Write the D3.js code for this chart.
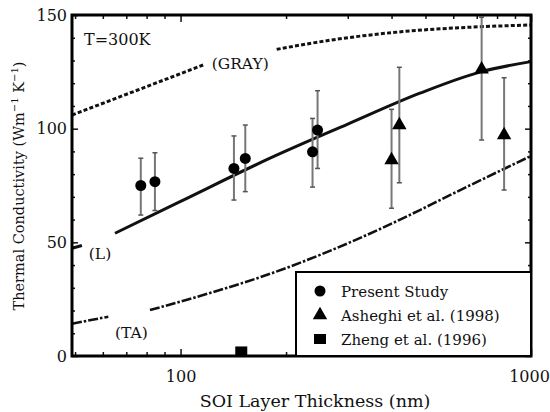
<!DOCTYPE html>
<html>
<head>
<meta charset="utf-8">
<script src="https://cdn.jsdelivr.net/npm/d3@7"></script>
<style>
  body { margin: 0; background: #fff; }
  svg text { font-family: "DejaVu Serif", serif !important; }
</style>
</head>
<body>
<div class="canvas"></div>
<script>
// present study (circles)
const studyX = [77, 84.5, 142, 153, 238, 246];
const studyY = [75, 76.7, 82.5, 86.9, 89.8, 99.4];
const studyLo = [62, 64, 68.6, 72.3, 74.3, 82.5];
const studyHi = [87, 89.4, 96.8, 101.6, 104.5, 116.7];

// Asheghi et al. (1998) triangles
const asheghiX = [400, 421, 723, 838];
const asheghiY = [86.2, 101.6, 126.1, 97.2];
const asheghiLo = [65, 76.2, 95, 73];
const asheghiHi = [108.5, 127, 149, 122.4];

// Zheng et al. (1996) square
const zhengX = [149];
const zhengY = [2];

// model curves, NaN = gap where the label sits
const grayX = [49, 80, 116, NaN, 188, 278, 431, 664, 1000];
const grayY = [106, 118.5, 128, NaN, 134.9, 139.3, 142.7, 144.6, 145.6];
const lX = [49, 52.3, NaN, 65, 100, 180, 300, 482, 723, 1000];
const lY = [47.4, 48.6, NaN, 54, 68, 87, 102, 115.6, 125.1, 129.5];
const taX = [49, 62.2, NaN, 81.8, 205, 482, 550, 1000];
const taY = [14.2, 17.3, NaN, 20.2, 39.3, 64.2, 68.6, 88];

const yTicks = [0, 50, 100, 150];
const xTicks = [100, 1000];

const svg = d3.select('.canvas')
    .append('svg')
    .attr('width', 550)
    .attr('height', 412);

const mLeft = 72, mRight = 531, mTop = 15, mBottom = 356;

const x = d3.scaleLog().domain([49, 1000]).range([mLeft, mRight]);
const y = d3.scaleLinear().domain([0, 150]).range([mBottom, mTop]);

// minor ticks
const yMinor = d3.range(0, 151, 10).filter(d => !yTicks.includes(d));
const xMinor = [50, 60, 70, 80, 90, 200, 300, 400, 500, 600, 700, 800, 900];

const addAxis = (axis, tx, ty) => {
    const g = svg.append('g')
        .attr('transform', `translate(${tx}, ${ty})`)
        .call(axis);
    g.select('.domain').remove();
    g.selectAll('line').attr('stroke', '#111').attr('stroke-width', 1.5);
    g.selectAll('text').attr('fill', '#111');
    return g;
};

const yAxisG = addAxis(d3.axisLeft(y).tickValues(yTicks).tickSize(-6).tickPadding(5), mLeft, 0);
yAxisG.attr('font-size', 16);
addAxis(d3.axisLeft(y).tickValues(yMinor).tickSize(-3).tickFormat(''), mLeft, 0);
addAxis(d3.axisRight(y).tickValues(yTicks).tickSize(-6).tickFormat(''), mRight, 0);
addAxis(d3.axisRight(y).tickValues(yMinor).tickSize(-3).tickFormat(''), mRight, 0);

const xAxisG = addAxis(d3.axisBottom(x).tickValues(xTicks).tickSize(-7).tickPadding(15)
    .tickFormat(d3.format('d')), 0, mBottom);
xAxisG.attr('font-size', 16);
xAxisG.selectAll('.tick').filter(d => d === 1000).select('text').attr('dx', -2);
addAxis(d3.axisBottom(x).tickValues(xMinor).tickSize(-4).tickFormat(''), 0, mBottom);
addAxis(d3.axisTop(x).tickValues(xTicks).tickSize(-7).tickFormat(''), 0, mTop);
addAxis(d3.axisTop(x).tickValues(xMinor).tickSize(-4).tickFormat(''), 0, mTop);

// curves
const line = d3.line()
    .defined(d => !isNaN(d[0]))
    .x(d => x(d[0]))
    .y(d => y(d[1]))
    .curve(d3.curveMonotoneX);

const curves = [
    { xs: grayX, ys: grayY, dash: '4,2.2', w: 3 },
    { xs: lX, ys: lY, dash: null, w: 3 },
    { xs: taX, ys: taY, dash: '10,2,2.5,2', w: 2.6 }
];
curves.forEach(c => {
    svg.append('path')
        .attr('d', line(c.xs.map((v, i) => [v, c.ys[i]])))
        .attr('fill', 'none')
        .attr('stroke', '#111')
        .attr('stroke-width', c.w)
        .attr('stroke-dasharray', c.dash);
});

// curve labels
const curveLabels = [
    { t: '(GRAY)', xv: 148, yv: 126.2 },
    { t: '(L)', xv: 58.9, yv: 42.7 },
    { t: '(TA)', xv: 72.4, yv: 7.9 }
];
svg.selectAll('.clabel')
    .data(curveLabels)
    .enter()
    .append('text')
    .attr('class', 'clabel')
    .attr('x', d => x(d.xv))
    .attr('y', d => y(d.yv))
    .attr('text-anchor', 'middle')
    .attr('font-size', 15.5)
    .attr('fill', '#111')
    .text(d => d.t);

// error bars
const errTop = mTop + 2;
const errBars = (xs, lo, hi) => {
    const g = svg.append('g');
    xs.forEach((v, i) => {
        const yHi = Math.max(y(hi[i]), errTop);
        g.append('line')
            .attr('x1', x(v)).attr('x2', x(v))
            .attr('y1', yHi).attr('y2', y(lo[i]))
            .attr('stroke', '#777').attr('stroke-width', 2);
        [yHi, y(lo[i])].forEach(yy => {
            g.append('line')
                .attr('x1', x(v) - 2.5).attr('x2', x(v) + 2.5)
                .attr('y1', yy).attr('y2', yy)
                .attr('stroke', '#555').attr('stroke-width', 1.5);
        });
    });
};
errBars(studyX, studyLo, studyHi);
errBars(asheghiX, asheghiLo, asheghiHi);

// markers
svg.selectAll('.study')
    .data(studyX)
    .enter()
    .append('circle')
    .attr('cx', d => x(d))
    .attr('cy', (d, i) => y(studyY[i]))
    .attr('r', 5.5)
    .attr('fill', '#000');

const tri = d3.symbol().type(d3.symbolTriangle).size(90);
svg.selectAll('.ash')
    .data(asheghiX)
    .enter()
    .append('path')
    .attr('d', tri)
    .attr('transform', (d, i) => `translate(${x(d)}, ${y(asheghiY[i])})`)
    .attr('fill', '#000');

svg.selectAll('.zheng')
    .data(zhengX)
    .enter()
    .append('rect')
    .attr('x', d => x(d) - 6)
    .attr('y', (d, i) => y(zhengY[i]) - 5)
    .attr('width', 12)
    .attr('height', 10)
    .attr('fill', '#000');

// frame
svg.append('rect')
    .attr('x', mLeft).attr('y', mTop)
    .attr('width', mRight - mLeft).attr('height', mBottom - mTop)
    .attr('fill', 'none')
    .attr('stroke', '#000')
    .attr('stroke-width', 3);

svg.append('text')
    .attr('x', 84).attr('y', 45)
    .attr('font-size', 16)
    .attr('fill', '#111')
    .text('T=300K');

// legend
const legend = svg.append('g').attr('transform', 'translate(296, 272)');
legend.append('rect')
    .attr('width', mRight - 296).attr('height', mBottom - 272)
    .attr('fill', '#fff')
    .attr('stroke', '#000')
    .attr('stroke-width', 2);

const legendNames = ['Present Study', 'Asheghi et al. (1998)', 'Zheng et al. (1996)'];
legendNames.forEach((name, i) => {
    const cy = 19 + i * 24;
    if (i === 0) legend.append('circle').attr('cx', 24).attr('cy', cy).attr('r', 5.5).attr('fill', '#000');
    if (i === 1) legend.append('path').attr('d', tri).attr('transform', `translate(24, ${cy})`).attr('fill', '#000');
    if (i === 2) legend.append('rect').attr('x', 18).attr('y', cy - 5).attr('width', 12).attr('height', 10).attr('fill', '#000');
    legend.append('text')
        .attr('x', 45).attr('y', cy + 6)
        .attr('font-size', 15)
        .attr('fill', '#111')
        .text(name);
});

// axis titles
svg.append('text')
    .attr('x', 315).attr('y', 407)
    .attr('text-anchor', 'middle')
    .attr('font-size', 17.5)
    .attr('fill', '#111')
    .text('SOI Layer Thickness (nm)');

const yt = svg.append('text')
    .attr('transform', 'translate(24, 186) rotate(-90)')
    .attr('text-anchor', 'middle')
    .attr('font-size', 14.5)
    .attr('fill', '#111');
yt.append('tspan').text('Thermal Conductivity (Wm');
yt.append('tspan').attr('dy', -6).attr('font-size', 10).text('−1');
yt.append('tspan').attr('dy', 6).text(' K');
yt.append('tspan').attr('dy', -6).attr('font-size', 10).text('−1');
yt.append('tspan').attr('dy', 6).text(')');
</script>
</body>
</html>
